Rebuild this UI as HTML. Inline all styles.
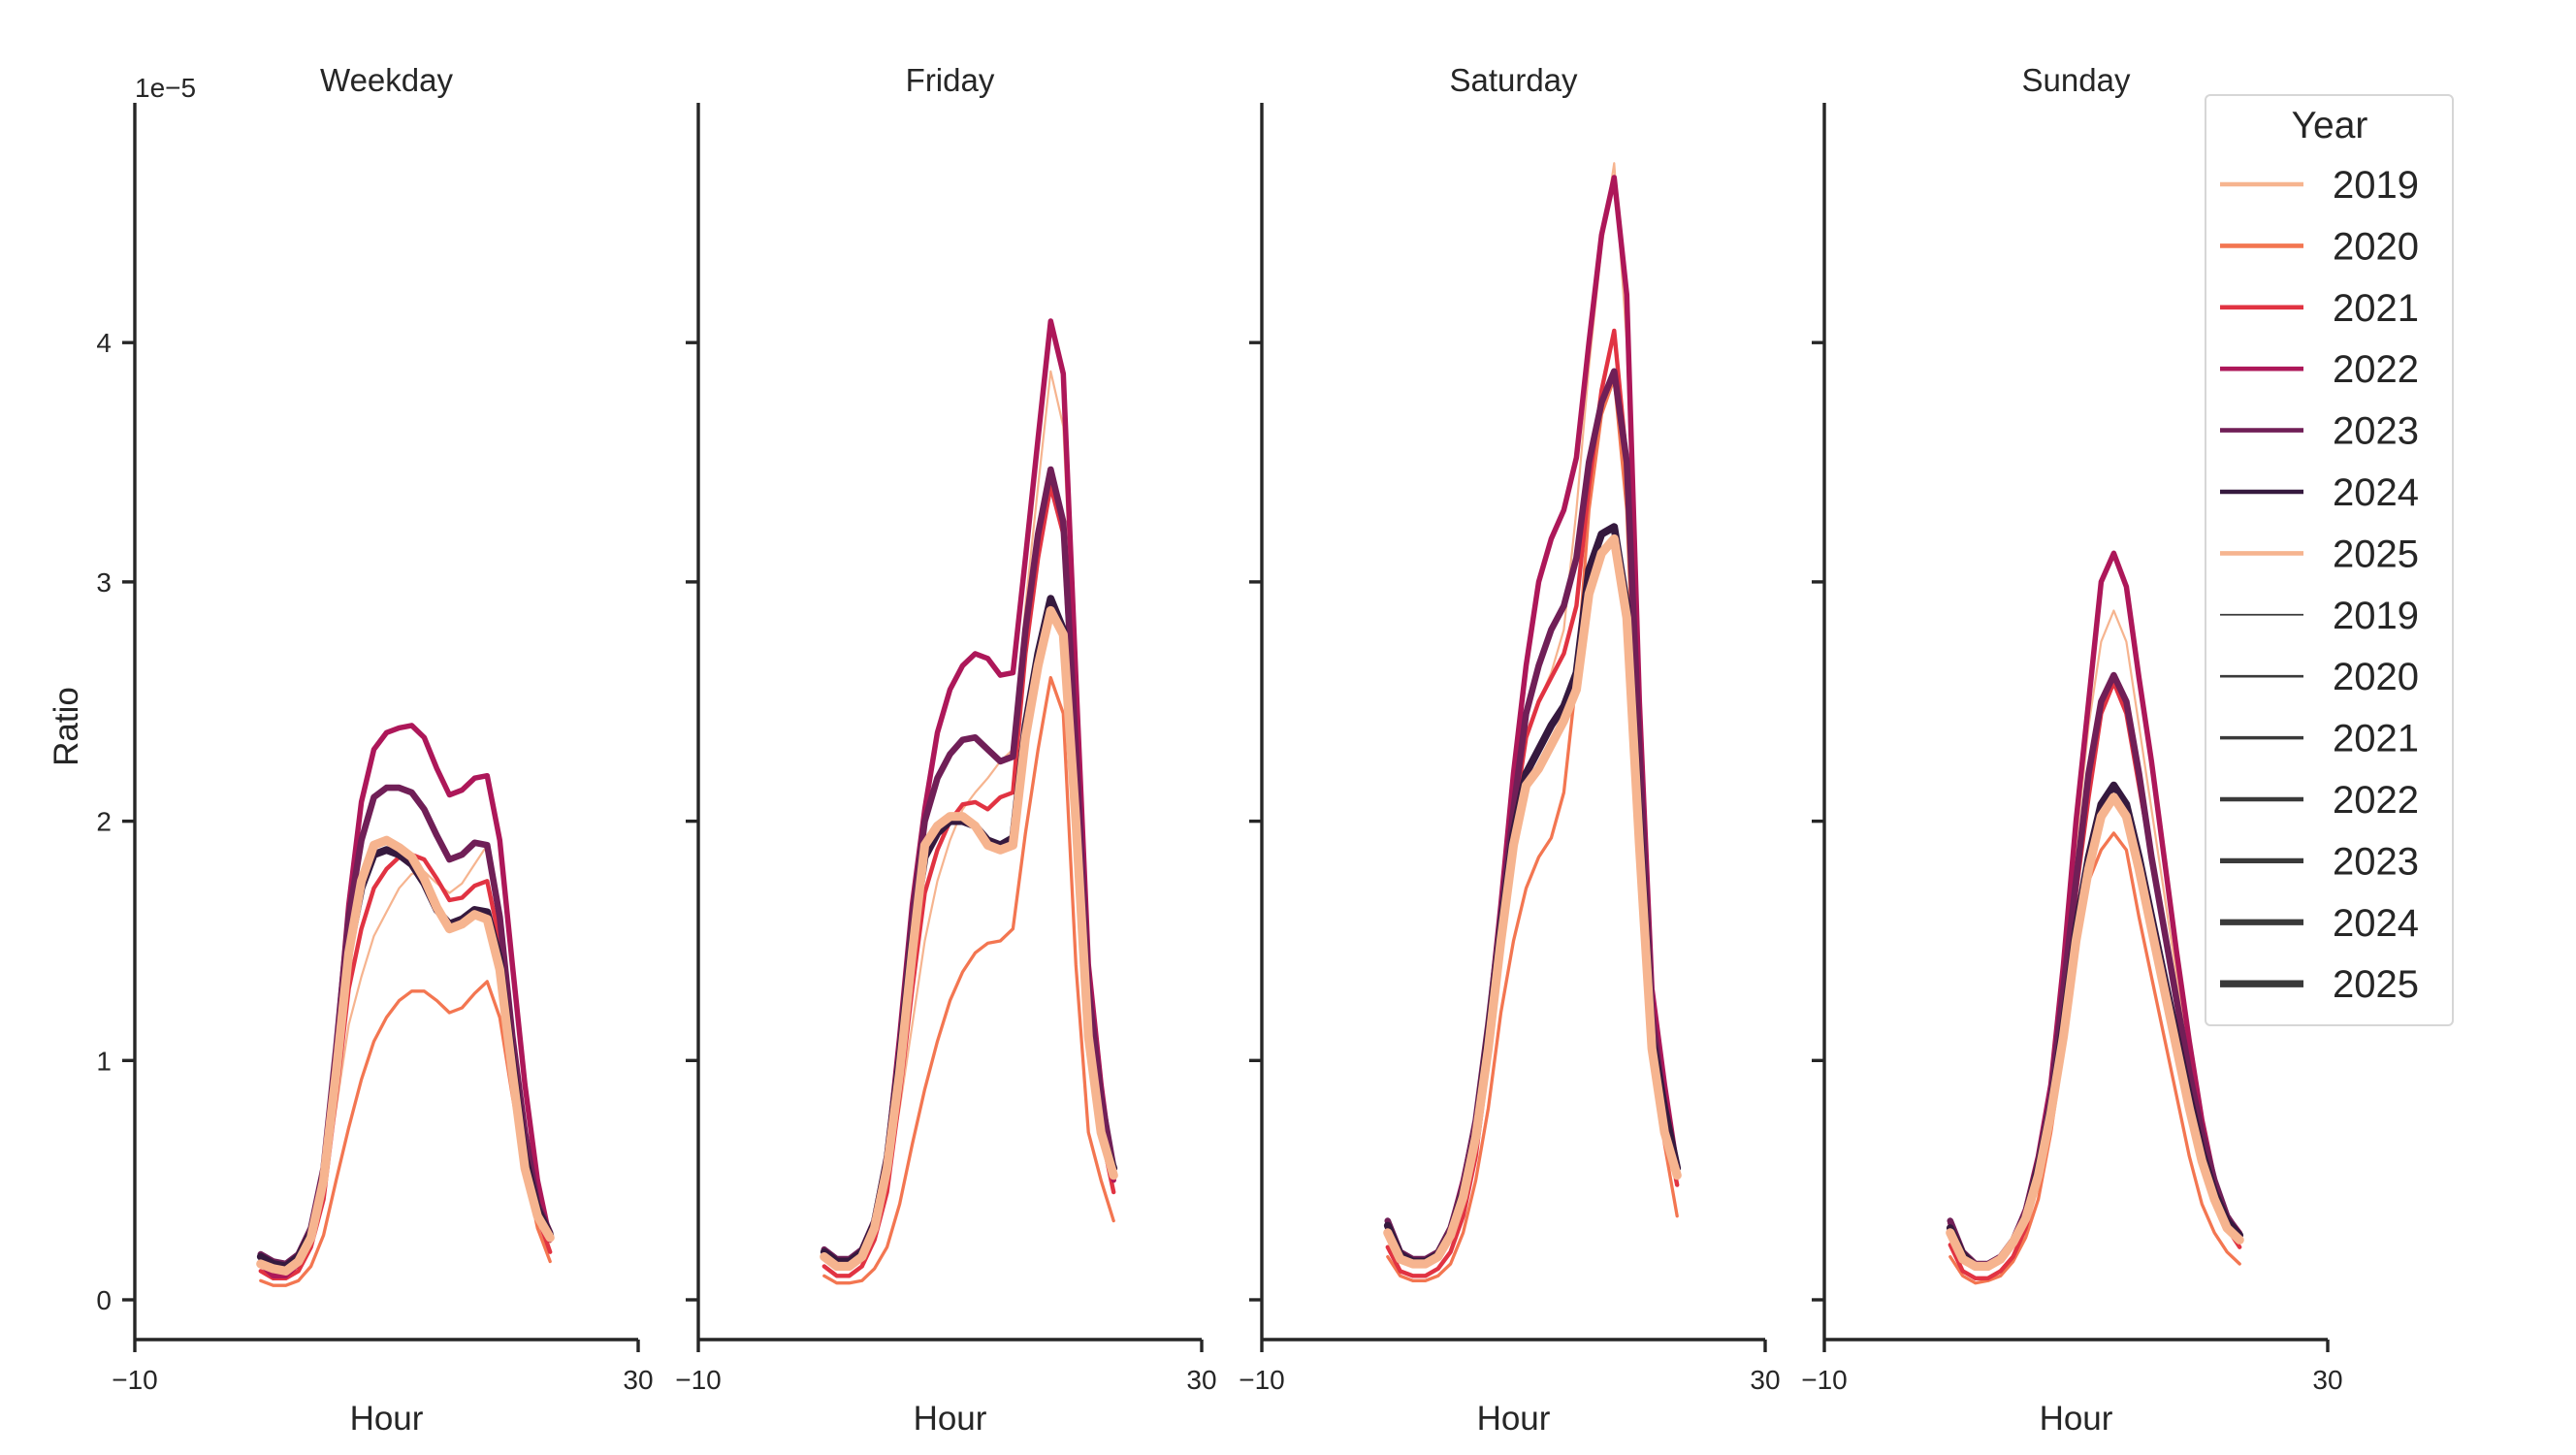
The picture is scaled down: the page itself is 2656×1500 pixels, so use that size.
<!DOCTYPE html>
<html><head><meta charset="utf-8">
<style>
html,body{margin:0;padding:0;background:#fff;}
svg{display:block;font-family:"Liberation Sans","DejaVu Sans",sans-serif;}
</style></head>
<body>
<svg id="chart" width="2656" height="1500" viewBox="0 0 2656 1500" xmlns="http://www.w3.org/2000/svg">
<rect x="0" y="0" width="2656" height="1500" fill="#fff"/>
<g id="panels"></g>
<g id="legend"></g>
</svg>
<script>
const hours = [0,1,2,3,4,5,6,7,8,9,10,11,12,13,14,15,16,17,18,19,20,21,22,23];
const years = ["2019","2020","2021","2022","2023","2024","2025"];
const panelTitles = ["Weekday","Friday","Saturday","Sunday"];
const yTicks = [0,1,2,3,4];
const xTicks = [-10,30];

const weekday2019 = [.15,.12,.12,.16,.25,.45,.8,1.15,1.35,1.52,1.62,1.72,1.78,1.79,1.74,1.7,1.74,1.82,1.9,1.55,1.0,.55,.32,.24];
const weekday2020 = [.08,.06,.06,.08,.14,.27,.5,.72,.92,1.08,1.18,1.25,1.29,1.29,1.25,1.2,1.22,1.28,1.33,1.18,.85,.55,.3,.16];
const weekday2021 = [.12,.09,.09,.12,.22,.42,.85,1.3,1.55,1.72,1.8,1.85,1.86,1.84,1.76,1.67,1.68,1.73,1.75,1.5,1.05,.6,.35,.2];
const weekday2022 = [.15,.1,.1,.15,.28,.55,1.05,1.65,2.08,2.3,2.37,2.39,2.4,2.35,2.22,2.11,2.13,2.18,2.19,1.92,1.4,.9,.5,.25];
const weekday2023 = [.19,.16,.15,.19,.3,.55,1.05,1.6,1.92,2.1,2.14,2.14,2.12,2.05,1.94,1.84,1.86,1.91,1.9,1.6,1.1,.7,.4,.28];
const weekday2024 = [.18,.15,.14,.18,.28,.5,.95,1.45,1.72,1.86,1.88,1.86,1.82,1.74,1.63,1.57,1.59,1.63,1.62,1.42,1.0,.6,.38,.27];
const weekday2025 = [.15,.13,.12,.16,.26,.5,.95,1.45,1.75,1.9,1.92,1.89,1.85,1.76,1.64,1.55,1.57,1.61,1.59,1.38,.95,.55,.35,.26];

const friday2019 = [.18,.14,.14,.18,.28,.5,.8,1.15,1.5,1.75,1.92,2.05,2.12,2.18,2.25,2.3,2.9,3.4,3.88,3.65,2.5,1.3,.8,.55];
const friday2020 = [.1,.07,.07,.08,.13,.22,.4,.65,.88,1.08,1.25,1.37,1.45,1.49,1.5,1.55,1.95,2.3,2.6,2.45,1.4,.7,.5,.33];
const friday2021 = [.14,.1,.1,.14,.25,.45,.85,1.3,1.7,1.88,2.0,2.07,2.08,2.05,2.1,2.12,2.7,3.1,3.4,3.2,2.2,1.1,.7,.45];
const friday2022 = [.2,.16,.16,.2,.32,.6,1.1,1.65,2.05,2.37,2.55,2.65,2.7,2.68,2.61,2.62,3.1,3.6,4.09,3.87,2.6,1.4,.9,.5];
const friday2023 = [.21,.17,.17,.21,.33,.6,1.05,1.6,2.0,2.18,2.28,2.34,2.35,2.3,2.25,2.27,2.8,3.2,3.47,3.25,2.3,1.3,.85,.55];
const friday2024 = [.2,.16,.16,.2,.32,.58,1.0,1.5,1.85,1.95,2.0,2.0,1.98,1.92,1.9,1.93,2.4,2.7,2.93,2.8,2.0,1.1,.7,.55];
const friday2025 = [.18,.14,.14,.18,.3,.55,.95,1.45,1.9,1.98,2.02,2.02,1.98,1.9,1.88,1.9,2.35,2.65,2.88,2.78,2.0,1.1,.7,.52];

const saturday2019 = [.28,.17,.15,.15,.18,.27,.45,.72,1.1,1.55,2.0,2.35,2.5,2.62,2.8,3.3,3.9,4.4,4.75,4.0,2.4,1.2,.8,.55];
const saturday2020 = [.18,.1,.08,.08,.1,.15,.28,.5,.8,1.2,1.5,1.72,1.85,1.93,2.12,2.6,3.3,3.7,3.85,3.3,2.0,1.0,.65,.35];
const saturday2021 = [.22,.12,.1,.1,.13,.2,.35,.6,1.0,1.5,2.0,2.35,2.5,2.6,2.7,2.9,3.4,3.8,4.05,3.5,2.2,1.1,.75,.48];
const saturday2022 = [.32,.2,.17,.17,.2,.3,.5,.75,1.15,1.65,2.2,2.65,3.0,3.18,3.3,3.52,4.0,4.45,4.69,4.2,2.5,1.3,.9,.55];
const saturday2023 = [.33,.2,.17,.17,.2,.3,.48,.75,1.15,1.6,2.05,2.45,2.65,2.8,2.9,3.1,3.5,3.75,3.88,3.5,2.3,1.2,.8,.55];
const saturday2024 = [.31,.19,.16,.16,.19,.28,.45,.7,1.1,1.55,1.95,2.2,2.3,2.4,2.48,2.62,3.05,3.2,3.23,2.9,2.0,1.1,.8,.55];
const saturday2025 = [.28,.17,.15,.15,.18,.27,.43,.68,1.05,1.5,1.9,2.15,2.22,2.32,2.42,2.55,2.95,3.12,3.18,2.85,1.9,1.05,.7,.52];

const sunday2019 = [.3,.19,.15,.15,.18,.25,.37,.58,.88,1.35,1.9,2.4,2.75,2.88,2.75,2.4,2.05,1.7,1.35,1.02,.72,.5,.35,.27];
const sunday2020 = [.18,.1,.07,.08,.1,.16,.26,.42,.7,1.05,1.45,1.75,1.88,1.95,1.88,1.6,1.35,1.1,.85,.6,.4,.28,.2,.15];
const sunday2021 = [.23,.12,.09,.09,.12,.18,.3,.5,.8,1.2,1.7,2.1,2.45,2.58,2.45,2.15,1.85,1.55,1.25,.95,.65,.45,.3,.22];
const sunday2022 = [.32,.2,.15,.15,.18,.25,.38,.6,.9,1.4,2.0,2.5,3.0,3.12,2.98,2.6,2.25,1.85,1.45,1.08,.75,.5,.35,.28];
const sunday2023 = [.33,.2,.15,.15,.18,.25,.37,.58,.85,1.3,1.75,2.2,2.5,2.61,2.5,2.2,1.85,1.55,1.25,.95,.7,.5,.35,.27];
const sunday2024 = [.3,.19,.14,.14,.17,.24,.35,.55,.8,1.15,1.55,1.85,2.07,2.15,2.07,1.85,1.6,1.35,1.1,.85,.62,.45,.33,.27];
const sunday2025 = [.28,.17,.14,.14,.17,.24,.34,.52,.78,1.1,1.5,1.8,2.02,2.1,2.02,1.8,1.55,1.3,1.05,.8,.58,.42,.3,.25];

const panelSeries = [
  [weekday2019,weekday2020,weekday2021,weekday2022,weekday2023,weekday2024,weekday2025],
  [friday2019,friday2020,friday2021,friday2022,friday2023,friday2024,friday2025],
  [saturday2019,saturday2020,saturday2021,saturday2022,saturday2023,saturday2024,saturday2025],
  [sunday2019,sunday2020,sunday2021,sunday2022,sunday2023,sunday2024,sunday2025]
];

const colors = ["#f6b48f","#f37651","#e13342","#ad1759","#701f57","#35193e","#f6b48f"];
const widths = [2.2,3.3,4.4,5.5,6.6,7.8,9.2];
const panelLeft = [139,720,1301,1881];
const panelW = 519;
const y0 = 1340, yUnit = 246.7, yTop = 106, yBottom = 1381;
const ink = "#262626";
const NS = "http://www.w3.org/2000/svg";

function el(tag, attrs, parent){
  const e = document.createElementNS(NS, tag);
  for (const k in attrs) e.setAttribute(k, attrs[k]);
  parent.appendChild(e);
  return e;
}
function xScale(p, h){ return panelLeft[p] + (h + 10) / 40 * panelW; }
function yScale(v){ return y0 - v * yUnit; }

const panels = document.getElementById("panels");
panelTitles.forEach((title, p) => {
  const g = el("g", {}, panels);
  
  
  const L = panelLeft[p], R = L + panelW;
  const t = el("text", {x: L + panelW/2, y: 94, "font-size": 33, fill: ink, "text-anchor": "middle"}, g);
  t.textContent = title;
  
  
  const ys = el("line", {x1: L, y1: yTop, x2: L, y2: yBottom, stroke: ink, "stroke-width": 3.4}, g);
  
  
  const xs = el("line", {x1: L, y1: yBottom, x2: R, y2: yBottom, stroke: ink, "stroke-width": 3.4}, g);
  
  
  yTicks.forEach(v => {
    const tk = el("line", {x1: L - 13, y1: yScale(v), x2: L, y2: yScale(v), stroke: ink, "stroke-width": 3.4}, g);
    
    
    if (p === 0) {
      const tl = el("text", {x: L - 24, y: yScale(v) + 10, "font-size": 28, fill: ink, "text-anchor": "end"}, g);
      tl.textContent = String(v);
      
      
    }
  });
  xTicks.forEach(v => {
    const x = xScale(p, v);
    const tk = el("line", {x1: x, y1: yBottom, x2: x, y2: yBottom + 13, stroke: ink, "stroke-width": 3.4}, g);
    
    
    const tl = el("text", {x: x, y: 1432, "font-size": 28, fill: ink, "text-anchor": "middle"}, g);
    tl.textContent = v < 0 ? "\u2212" + Math.abs(v) : String(v);
    
    
  });
  const xl = el("text", {x: L + panelW/2, y: 1474, "font-size": 35, fill: ink, "text-anchor": "middle"}, g);
  xl.textContent = "Hour";
  
  
  if (p === 0) {
    const yl = el("text", {x: 0, y: 0, "font-size": 35, fill: ink, "text-anchor": "middle", transform: "translate(80,749) rotate(-90)"}, g);
    yl.textContent = "Ratio";
    
    
    const off = el("text", {x: L, y: 100, "font-size": 28, fill: ink}, g);
    off.textContent = "1e\u22125";
    
    
  }
  panelSeries[p].forEach((vals, s) => {
    const d = hours.map((h, i) => (i ? "L" : "M") + xScale(p, h).toFixed(1) + "," + yScale(vals[i]).toFixed(1)).join(" ");
    const path = el("path", {d: d, fill: "none", stroke: colors[s], "stroke-width": widths[s], "stroke-linejoin": "round", "stroke-linecap": "round"}, g);
    
    
  });
});

// legend
const lg = document.getElementById("legend");
const box = el("rect", {x: 2274, y: 98, width: 255, height: 959, rx: 5, fill: "#fff", "fill-opacity": 0.8, stroke: "#d6d6d6", "stroke-width": 2}, lg);


const lt = el("text", {x: 2402, y: 142, "font-size": 39, fill: ink, "text-anchor": "middle"}, lg);
lt.textContent = "Year";


const legendLabels = years.concat(years);
legendLabels.forEach((lab, i) => {
  const y = 190 + i * 63.4;
  const hue = i < 7;
  const ln = el("line", {x1: 2289, y1: y, x2: 2375, y2: y, stroke: hue ? colors[i] : "#3a3a3a", "stroke-width": hue ? 4.6 : widths[i - 7] * 0.8}, lg);
  
  
  const tx = el("text", {x: 2405, y: y + 14, "font-size": 40, fill: ink}, lg);
  tx.textContent = lab;
  
  
});
</script>
</body></html>
